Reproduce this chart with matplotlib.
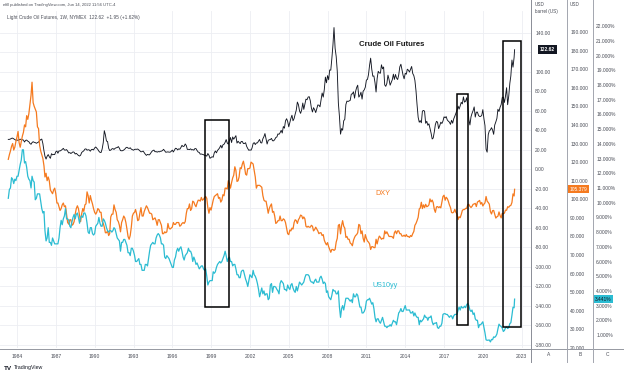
import numpy as np
import pandas as pd
import matplotlib
matplotlib.use("Agg")
import matplotlib.pyplot as plt
import matplotlib.dates as mdates
from matplotlib.patches import Rectangle
from matplotlib.lines import Line2D
from matplotlib.transforms import blended_transform_factory

# ---------------- data (monthly, Apr 1983 .. May 2022, then Jun 14 2022) -------------
crude = [
    30.6, 30.6, 31.0, 31.7, 31.9, 31.1, 30.4, 29.8, 29.9,                      # 1983
    29.7, 30.1, 30.8, 30.5, 30.3, 29.9, 27.9, 29.6, 29.9, 28.8, 28.2, 26.4,    # 1984
    25.6, 27.3, 28.2, 27.6, 27.3, 26.6, 27.2, 27.9, 29.1, 30.4, 30.9, 26.3,    # 1985
    18.8, 13.3, 10.4, 13.3, 15.0, 12.8, 11.2, 15.9, 14.8, 15.2, 15.0, 17.9,    # 1986
    18.7, 16.4, 18.8, 18.7, 19.4, 20.3, 21.4, 19.7, 19.6, 20.1, 18.6, 16.7,    # 1987
    17.1, 16.1, 16.9, 17.8, 17.4, 15.6, 16.3, 15.2, 14.1, 13.5, 14.4, 17.2,    # 1988
    18.1, 18.9, 20.6, 20.9, 19.5, 20.0, 19.8, 18.5, 20.1, 20.4, 19.8, 21.8,    # 1989
    22.8, 21.6, 20.3, 18.5, 17.3, 17.1, 20.7, 27.2, 39.5, 35.2, 28.9, 28.4,    # 1990
    21.5, 19.2, 19.6, 20.8, 21.2, 20.3, 21.4, 22.0, 22.2, 23.2, 21.5, 19.1,    # 1991
    18.9, 19.0, 19.7, 20.6, 22.0, 22.5, 21.7, 21.3, 22.0, 20.6, 20.0, 19.5,    # 1992
    20.3, 20.5, 20.4, 20.7, 19.9, 18.8, 17.8, 18.1, 18.6, 16.9, 15.4, 14.2,    # 1993
    15.2, 14.8, 14.8, 16.4, 18.1, 19.1, 19.6, 17.9, 18.1, 17.5, 18.1, 17.8,    # 1994
    18.4, 18.5, 19.2, 20.4, 18.9, 17.4, 17.6, 17.8, 17.5, 17.5, 18.3, 19.6,    # 1995
    17.7, 19.5, 21.5, 21.2, 19.8, 20.9, 20.5, 22.3, 24.5, 23.3, 23.6, 25.9,    # 1996
    24.2, 20.3, 20.4, 20.1, 20.9, 19.8, 20.1, 19.6, 21.2, 21.1, 19.2, 17.6,    # 1997
    17.2, 15.4, 15.6, 15.2, 14.9, 14.2, 14.2, 13.4, 16.1, 14.4, 11.2, 12.1,    # 1998
    12.8, 12.3, 16.8, 18.7, 16.8, 19.3, 20.5, 22.1, 24.5, 21.8, 25.0, 25.6,    # 1999
    27.6, 30.4, 26.9, 25.7, 29.0, 32.5, 27.4, 33.1, 30.8, 32.7, 34.4, 26.8,    # 2000
    28.7, 27.4, 26.3, 28.5, 28.4, 26.3, 26.4, 27.2, 23.4, 21.2, 19.4, 19.8,    # 2001
    19.5, 21.7, 26.3, 27.3, 25.3, 26.9, 27.0, 28.9, 30.5, 27.2, 26.9, 31.2,    # 2002
    33.5, 36.6, 31.0, 25.8, 29.6, 30.2, 30.5, 31.6, 29.2, 29.1, 30.4, 32.5,    # 2003
    33.1, 36.2, 35.8, 37.4, 39.9, 37.1, 43.8, 42.1, 49.6, 51.8, 49.1, 43.5,    # 2004
    48.2, 52.0, 55.4, 49.7, 52.0, 56.5, 60.6, 68.9, 66.2, 59.8, 57.3, 61.0,    # 2005
    67.9, 61.4, 66.6, 71.9, 71.3, 74.0, 74.4, 70.3, 62.9, 58.7, 63.1, 61.1,    # 2006
    58.1, 62.0, 65.9, 65.7, 64.0, 70.7, 78.2, 74.0, 81.7, 94.5, 88.7, 96.0,    # 2007
    91.8, 101.8, 101.6, 113.5, 127.4, 145.3, 124.1, 115.5, 100.6, 67.8, 54.4, 36.0,  # 2008
    41.7, 40.0, 49.7, 51.1, 66.3, 69.9, 69.5, 70.0, 70.6, 77.0, 77.3, 79.4,    # 2009
    72.9, 79.7, 83.8, 86.2, 74.0, 75.6, 79.0, 71.9, 80.0, 81.4, 84.1, 91.4,    # 2010
    92.2, 97.0, 106.7, 113.9, 102.7, 95.4, 95.7, 88.8, 79.2, 93.2, 100.4, 98.8,  # 2011
    98.5, 107.1, 103.0, 104.9, 86.5, 85.0, 88.1, 96.5, 92.2, 86.2, 88.9, 91.8,   # 2012
    97.5, 92.1, 97.2, 93.5, 92.0, 96.6, 105.0, 107.7, 102.3, 96.4, 92.7, 98.4,   # 2013
    97.5, 102.6, 101.6, 99.7, 102.7, 105.4, 98.2, 96.0, 91.2, 80.5, 66.2, 53.3,  # 2014
    48.2, 49.8, 47.6, 59.6, 60.3, 59.5, 47.1, 49.2, 45.1, 46.6, 41.7, 37.0,    # 2015
    31.0, 32.0, 38.3, 45.9, 49.1, 48.3, 41.6, 44.7, 48.2, 46.9, 49.4, 53.7,    # 2016
    52.8, 54.0, 50.6, 49.3, 48.3, 46.0, 50.2, 47.2, 51.7, 54.4, 57.4, 60.4,    # 2017
    64.7, 61.6, 64.9, 68.6, 67.0, 74.2, 68.8, 69.8, 73.3, 65.3, 50.9, 45.4,    # 2018
    53.8, 57.2, 60.1, 63.9, 53.5, 58.5, 58.6, 55.1, 54.1, 54.2, 55.2, 61.1,    # 2019
    51.6, 44.8, 20.5, 17.5, 35.5, 39.3, 40.3, 42.6, 40.2, 35.8, 45.3, 48.5,    # 2020
    52.2, 61.5, 59.2, 63.6, 66.3, 73.5, 74.0, 68.5, 75.0, 83.6, 66.2, 75.2,    # 2021
    88.2, 95.7, 112.0, 104.7, 114.7,                                          # 2022
    122.62,                                                                   # Jun 14 2022
]

dxy = [
    121.5, 124.0, 126.0, 128.5, 130.0, 126.5, 128.0, 131.0, 133.5,             # 1983
    136.5, 130.5, 128.0, 131.0, 134.0, 136.0, 140.0, 139.0, 145.0, 143.0, 146.0, 151.0,  # 1984
    156.0, 163.0, 152.0, 150.0, 148.5, 147.0, 139.0, 138.0, 129.0, 126.0, 124.0, 122.0,  # 1985
    118.0, 112.0, 114.0, 110.0, 112.0, 110.0, 105.0, 104.0, 103.0, 105.0, 106.0, 103.0,  # 1986
    98.0, 98.0, 96.0, 94.0, 95.0, 97.0, 98.0, 96.0, 96.5, 92.0, 87.5, 86.6,    # 1987
    89.0, 89.0, 86.0, 86.5, 88.0, 92.0, 95.0, 96.5, 95.0, 91.5, 88.0, 92.3,    # 1988
    95.0, 93.5, 97.0, 97.5, 104.0, 102.0, 98.0, 102.0, 99.5, 97.5, 95.0, 93.0, # 1989
    92.0, 93.0, 95.0, 94.5, 93.0, 93.0, 88.0, 87.0, 85.0, 82.0, 82.0, 83.0,    # 1990
    80.5, 81.5, 90.5, 92.0, 92.0, 97.0, 94.5, 93.0, 89.0, 88.0, 86.0, 82.5,    # 1991
    87.5, 89.0, 91.0, 90.0, 87.5, 84.0, 80.0, 78.5, 80.5, 85.0, 91.0, 92.5,    # 1992
    93.0, 94.5, 92.0, 88.5, 89.0, 92.5, 95.5, 91.0, 91.0, 93.5, 95.0, 96.5,    # 1993
    95.5, 94.0, 92.5, 92.5, 92.0, 89.0, 89.5, 90.0, 88.5, 86.0, 89.0, 89.0,    # 1994
    87.5, 86.0, 81.5, 81.5, 82.5, 82.0, 82.5, 87.0, 84.5, 84.0, 84.5, 85.0,    # 1995
    87.5, 86.5, 86.5, 87.5, 87.5, 87.5, 85.5, 86.0, 87.0, 87.5, 87.0, 88.0,    # 1996
    92.5, 95.0, 95.0, 97.5, 94.0, 95.0, 99.0, 98.5, 97.0, 96.0, 98.0, 99.5,    # 1997
    99.5, 99.0, 101.0, 99.5, 100.0, 101.0, 101.5, 100.5, 95.5, 92.5, 95.5, 94.2,  # 1998
    97.0, 99.5, 101.5, 102.0, 102.5, 103.0, 100.5, 101.0, 98.5, 99.5, 102.5, 101.9,  # 1999
    106.0, 106.0, 105.5, 110.0, 108.5, 106.0, 109.0, 111.5, 113.0, 117.5, 115.5, 109.6,  # 2000
    110.0, 112.0, 117.0, 116.5, 119.0, 120.5, 117.5, 113.5, 113.0, 116.5, 116.5, 116.8,  # 2001
    120.0, 119.5, 119.0, 115.5, 112.0, 106.0, 107.5, 107.5, 107.5, 107.0, 106.5, 102.0,  # 2002
    99.5, 99.0, 99.0, 96.0, 92.5, 95.0, 96.5, 97.5, 93.0, 93.5, 91.0, 87.0,    # 2003
    87.5, 88.5, 88.5, 91.0, 88.5, 88.5, 89.5, 89.0, 87.5, 84.5, 81.5, 81.0,    # 2004
    83.5, 83.0, 84.5, 84.0, 87.5, 89.0, 88.5, 87.0, 89.0, 90.0, 91.5, 91.2,    # 2005
    89.5, 90.5, 89.5, 85.5, 85.0, 85.5, 85.0, 85.0, 86.0, 85.5, 83.0, 83.7,    # 2006
    85.0, 84.0, 83.0, 81.5, 82.0, 82.0, 80.5, 81.0, 78.0, 76.5, 75.5, 76.7,    # 2007
    74.5, 73.0, 71.5, 73.0, 73.0, 72.5, 73.0, 77.0, 79.0, 86.0, 86.5, 81.4,    # 2008
    86.0, 88.5, 85.5, 84.5, 79.5, 80.0, 78.5, 78.5, 76.5, 76.0, 75.0, 77.9,    # 2009
    79.5, 80.5, 81.0, 82.0, 86.5, 86.0, 81.5, 83.0, 79.0, 77.0, 81.0, 79.0,    # 2010
    77.5, 77.0, 76.0, 73.0, 74.5, 74.5, 74.0, 74.0, 78.5, 76.0, 78.5, 80.2,    # 2011
    79.5, 78.5, 79.0, 78.8, 83.0, 81.5, 82.5, 81.2, 80.0, 80.0, 80.0, 79.8,    # 2012
    79.0, 82.0, 83.0, 81.5, 83.0, 83.0, 81.5, 81.5, 80.2, 80.2, 80.7, 80.0,    # 2013
    81.0, 80.0, 80.0, 79.5, 80.5, 80.0, 81.5, 82.7, 86.0, 87.0, 88.5, 90.3,    # 2014
    94.8, 95.3, 98.4, 95.0, 97.0, 95.5, 97.3, 96.0, 96.3, 97.0, 100.2, 98.6,   # 2015
    99.6, 98.2, 94.6, 93.0, 95.9, 96.1, 95.5, 96.0, 95.4, 98.5, 101.5, 102.2,  # 2016
    99.5, 101.1, 100.4, 99.0, 97.0, 95.6, 92.9, 92.7, 93.1, 94.6, 93.0, 92.1,  # 2017
    89.1, 90.6, 90.1, 91.8, 94.0, 94.5, 94.5, 95.1, 95.1, 97.1, 97.3, 96.2,    # 2018
    95.6, 96.2, 97.3, 97.5, 97.8, 96.1, 98.5, 98.9, 99.4, 97.4, 98.3, 96.4,    # 2019
    97.4, 98.1, 101.5, 99.0, 98.3, 97.4, 93.4, 92.1, 93.9, 94.0, 91.9, 89.9,   # 2020
    90.6, 90.9, 93.2, 91.3, 90.0, 92.4, 92.2, 92.6, 94.2, 94.1, 96.0, 95.7,    # 2021
    96.5, 96.7, 98.3, 102.9, 101.8,                                           # 2022
    105.379,                                                                  # Jun 14 2022
]

us10yy = [
    10.3, 10.9, 11.0, 11.7, 11.6, 11.3, 11.6, 11.5, 11.8,                      # 1983
    11.8, 12.2, 12.6, 12.9, 13.6, 13.6, 12.7, 12.8, 12.4, 11.8, 11.6, 11.5,    # 1984
    11.0, 11.8, 11.5, 11.4, 10.2, 10.3, 10.6, 10.6, 10.6, 10.1, 9.6, 9.3,      # 1985
    9.4, 8.1, 7.4, 7.6, 8.3, 7.3, 7.3, 7.1, 7.6, 7.4, 7.2, 7.2,                # 1986
    7.2, 7.2, 7.6, 8.3, 8.8, 8.5, 8.9, 9.1, 9.6, 8.9, 8.9, 8.8,                # 1987
    8.4, 8.3, 8.7, 9.0, 9.2, 8.9, 9.2, 9.3, 9.0, 8.6, 9.0, 9.1,                # 1988
    9.0, 9.3, 9.3, 9.1, 8.6, 8.0, 7.9, 8.3, 8.3, 7.9, 7.8, 7.9,                # 1989
    8.4, 8.5, 8.6, 9.0, 8.6, 8.4, 8.4, 8.9, 8.8, 8.6, 8.3, 8.1,                # 1990
    8.0, 8.1, 8.1, 8.0, 8.1, 8.3, 8.2, 7.9, 7.6, 7.5, 7.4, 6.7,                # 1991
    7.3, 7.3, 7.5, 7.5, 7.3, 7.1, 6.6, 6.6, 6.4, 6.9, 6.9, 6.7,                # 1992
    6.4, 6.0, 6.0, 6.1, 6.2, 5.8, 5.8, 5.4, 5.4, 5.4, 5.8, 5.8,                # 1993
    5.7, 6.2, 6.7, 7.1, 7.2, 7.3, 7.2, 7.2, 7.6, 7.8, 7.9, 7.8,                # 1994
    7.6, 7.2, 7.2, 7.1, 6.3, 6.2, 6.4, 6.3, 6.2, 6.0, 5.8, 5.6,                # 1995
    5.6, 6.1, 6.3, 6.7, 6.9, 6.7, 6.9, 7.0, 6.7, 6.3, 6.1, 6.4,                # 1996
    6.5, 6.6, 6.9, 6.7, 6.7, 6.5, 6.0, 6.3, 6.1, 5.8, 5.9, 5.7,                # 1997
    5.5, 5.6, 5.7, 5.7, 5.5, 5.4, 5.5, 5.0, 4.4, 4.6, 4.7, 4.7,                # 1998
    4.7, 5.3, 5.2, 5.3, 5.6, 5.8, 5.9, 6.0, 5.9, 6.0, 6.2, 6.4,                # 1999
    6.7, 6.4, 6.0, 6.2, 6.3, 6.0, 6.0, 5.7, 5.8, 5.8, 5.5, 5.1,                # 2000
    5.1, 4.9, 4.9, 5.3, 5.4, 5.4, 5.1, 4.8, 4.6, 4.3, 4.7, 5.1,                # 2001
    5.0, 4.9, 5.4, 5.1, 5.0, 4.8, 4.5, 4.1, 3.6, 3.9, 4.2, 3.8,                # 2002
    4.0, 3.7, 3.8, 3.8, 3.4, 3.5, 4.4, 4.5, 3.9, 4.3, 4.3, 4.25,               # 2003
    4.1, 4.0, 3.8, 4.5, 4.7, 4.6, 4.5, 4.1, 4.1, 4.0, 4.4, 4.2,                # 2004
    4.1, 4.4, 4.5, 4.2, 4.0, 3.9, 4.3, 4.0, 4.3, 4.6, 4.5, 4.4,                # 2005
    4.5, 4.6, 4.9, 5.1, 5.1, 5.1, 5.0, 4.7, 4.6, 4.6, 4.5, 4.7,                # 2006
    4.8, 4.6, 4.6, 4.6, 4.9, 5.0, 4.8, 4.5, 4.6, 4.5, 3.9, 4.0,                # 2007
    3.6, 3.5, 3.4, 3.7, 4.1, 4.0, 4.0, 3.8, 3.8, 4.0, 2.9, 2.2,                # 2008
    2.8, 3.0, 2.7, 3.1, 3.5, 3.5, 3.5, 3.4, 3.3, 3.4, 3.2, 3.8,                # 2009
    3.6, 3.6, 3.8, 3.7, 3.3, 2.9, 2.9, 2.5, 2.5, 2.6, 2.8, 3.3,                # 2010
    3.4, 3.4, 3.5, 3.3, 3.1, 3.2, 2.8, 2.2, 1.9, 2.1, 2.1, 1.9,                # 2011
    1.8, 2.0, 2.2, 1.9, 1.6, 1.6, 1.5, 1.6, 1.6, 1.7, 1.6, 1.8,                # 2012
    2.0, 1.9, 1.9, 1.7, 2.1, 2.5, 2.6, 2.8, 2.6, 2.6, 2.8, 3.0,                # 2013
    2.7, 2.7, 2.7, 2.7, 2.5, 2.5, 2.6, 2.3, 2.5, 2.3, 2.2, 2.2,                # 2014
    1.7, 2.0, 1.9, 2.0, 2.1, 2.35, 2.2, 2.2, 2.0, 2.2, 2.2, 2.3,               # 2015
    1.9, 1.7, 1.8, 1.8, 1.85, 1.5, 1.45, 1.6, 1.6, 1.8, 2.4, 2.45,             # 2016
    2.45, 2.4, 2.4, 2.3, 2.2, 2.3, 2.3, 2.1, 2.3, 2.4, 2.4, 2.4,               # 2017
    2.7, 2.9, 2.7, 2.95, 2.85, 2.85, 2.96, 2.86, 3.06, 3.15, 3.0, 2.7,         # 2018
    2.6, 2.7, 2.4, 2.5, 2.1, 2.0, 2.0, 1.5, 1.7, 1.7, 1.8, 1.9,                # 2019
    1.5, 1.15, 0.67, 0.64, 0.65, 0.66, 0.53, 0.7, 0.68, 0.87, 0.84, 0.92,      # 2020
    1.07, 1.41, 1.74, 1.63, 1.58, 1.47, 1.24, 1.31, 1.49, 1.55, 1.44, 1.51,    # 2021
    1.78, 1.83, 2.34, 2.89, 2.85,                                             # 2022
    3.441,                                                                    # Jun 14 2022
]

year_ticks = list(range(1984, 2024, 3))
crude_ticks = list(range(-180, 141, 20))
dxy_ticks = list(range(20, 191, 10))
us10_ticks = list(range(1, 23))

# highlight boxes (dates, crude-axis values)
box_start = ["1998-07-19", "2018-01-12", "2021-07-31"]
box_end = ["2000-05-12", "2018-11-17", "2022-12-05"]
box_top = [50.5, 76.8, 131.2]
box_bottom = [-141.3, -159.5, -162.2]


def series_dates(n):
    d = pd.period_range("1983-04", periods=n - 1, freq="M").to_timestamp(how="start") + pd.offsets.MonthEnd(0)
    return np.append(d.values, np.datetime64("2022-06-14"))


# ---------------- figure ----------------
W, H = 624, 375
plt.rcParams["font.family"] = ["Liberation Sans", "DejaVu Sans"]
fig = plt.figure(figsize=(W / 100, H / 100), dpi=100)
fig.patch.set_facecolor("white")

BLACK = "#131722"
ORANGE = "#F57A1F"
CYAN = "#2BBCD2"
GRID = "#ECEEF2"
TXT = "#4A4D57"
SEP = "#A3A6AF"

ax = fig.add_axes([0, 1 - 348 / H, 531 / W, (348 - 11) / H])
axB = ax.twinx()
axC = ax.twinx()

ax.plot(series_dates(len(crude)), crude, color=BLACK, lw=0.65, zorder=3)
axB.plot(series_dates(len(dxy)), dxy, color=ORANGE, lw=0.9)
axC.plot(series_dates(len(us10yy)), us10yy, color=CYAN, lw=0.9)

ax.set_xlim(np.datetime64("1982-09-08"), np.datetime64("2023-09-20"))
ax.set_ylim(-183.4, 162.3)
axB.set_ylim(20.0, 201.3)
axC.set_ylim(0.116, 23.04)

ax.set_xticks([np.datetime64(f"{y}-01-01") for y in year_ticks])
ax.set_xticklabels([str(y) for y in year_ticks])
ax.set_yticks(crude_ticks)
# the 120.00 label is covered by the last-price tag in the reference
ax.set_yticklabels(["" if v == 120 else f"{v:.2f}" for v in crude_ticks])
axB.set_yticks(dxy_ticks)
axB.set_yticklabels([f"{v:.3f}" for v in dxy_ticks])
axC.set_yticks(us10_ticks)
axC.set_yticklabels([f"{v:.3f}%" for v in us10_ticks])

ax.yaxis.tick_right()
ax.tick_params(axis="x", length=0, pad=4.2, labelsize=3.6, labelcolor=TXT)
ax.tick_params(axis="y", length=0, pad=3.0, labelsize=3.5, labelcolor=TXT)
axB.spines["right"].set_position(("axes", 567 / 531))
axC.spines["right"].set_position(("axes", 593 / 531))
for a in (axB, axC):
    a.tick_params(axis="y", length=0, pad=2.3, labelsize=3.5, labelcolor=TXT)
for a in (ax, axB, axC):
    for s in a.spines.values():
        s.set_visible(False)
    a.patch.set_visible(False)

ax.grid(True, color=GRID, lw=0.6)
ax.set_axisbelow(True)

# highlight boxes
for s, e, t, b in zip(box_start, box_end, box_top, box_bottom):
    xs = mdates.date2num(np.datetime64(s))
    xe = mdates.date2num(np.datetime64(e))
    axC.add_patch(Rectangle((xs, b), xe - xs, t - b, transform=ax.transData,
                            fill=False, ec="black", lw=1.1, zorder=5))

# series names
ax.text(np.datetime64("2012-12-20"), 127.5, "Crude Oil Futures", ha="center", va="center",
        fontsize=5.6, fontweight="bold", color="#1a1a1a")
axB.text(np.datetime64("2012-04-20"), 103.0, "DXY", ha="center", va="center",
         fontsize=5.2, color=ORANGE)
axC.text(np.datetime64("2012-06-20"), 4.4, "US10yy", ha="center", va="center",
         fontsize=5.2, color=CYAN)

# last-value labels
tA = blended_transform_factory(fig.transFigure, ax.transData)
tB = blended_transform_factory(fig.transFigure, axB.transData)
tC = blended_transform_factory(fig.transFigure, axC.transData)
ax.text(540 / W, crude[-1], f"{crude[-1]:.2f}", transform=tA, ha="left", va="center",
        fontsize=3.5, color="white", fontweight="bold",
        bbox=dict(boxstyle="square,pad=0.35", fc=BLACK, ec="none"), clip_on=False)
axB.text(570 / W, dxy[-1], f"{dxy[-1]:.3f}", transform=tB, ha="left", va="center",
         fontsize=3.5, color="white",
         bbox=dict(boxstyle="square,pad=0.35", fc=ORANGE, ec="none"), clip_on=False)
axC.text(595 / W, us10yy[-1], f"{us10yy[-1]:.3f}%", transform=tC, ha="left", va="center",
         fontsize=3.5, color=BLACK,
         bbox=dict(boxstyle="square,pad=0.35", fc=CYAN, ec="none"), clip_on=False)

# separators / frame lines
def fline(x0, y0, x1, y1, color=SEP, lw=0.7):
    fig.add_artist(Line2D([x0 / W, x1 / W], [1 - y0 / H, 1 - y1 / H],
                          transform=fig.transFigure, color=color, lw=lw))

fline(0, 348.5, 624, 348.5, color="#9598A1")
fline(531, 0, 531, 362, color="#8A8D96")
fline(567, 0, 567, 362)
fline(593, 0, 593, 362)

# header texts
fig.text(3 / W, 1 - 5 / H, "efill published on TradingView.com, Jun 14, 2022 11:56 UTC-4",
         fontsize=3.0, color=TXT, va="center", ha="left")
fig.text(7 / W, 1 - 17 / H, "Light Crude Oil Futures, 1W, NYMEX  122.62  +1.95 (+1.62%)",
         fontsize=3.4, color=TXT, va="center", ha="left")
fig.text(535 / W, 1 - 5 / H, "USD", fontsize=3.3, color=TXT, va="center", ha="left")
fig.text(535 / W, 1 - 11.5 / H, "barrel (US)", fontsize=3.3, color=TXT, va="center", ha="left")
fig.text(570 / W, 1 - 5 / H, "USD", fontsize=3.3, color=TXT, va="center", ha="left")

for lab, xc in zip(["A", "B", "C"], [549, 580, 608]):
    fig.text(xc / W, 1 - 355 / H, lab, fontsize=3.5, color=TXT, ha="center", va="center")

fig.text(4 / W, 1 - 368 / H, "TV", fontsize=4.6, fontweight="bold", color=BLACK, va="center", ha="left")
fig.text(14 / W, 1 - 368 / H, "TradingView", fontsize=3.8, color=BLACK, va="center", ha="left")

fig.savefig("out.png", dpi=100, facecolor="white")
